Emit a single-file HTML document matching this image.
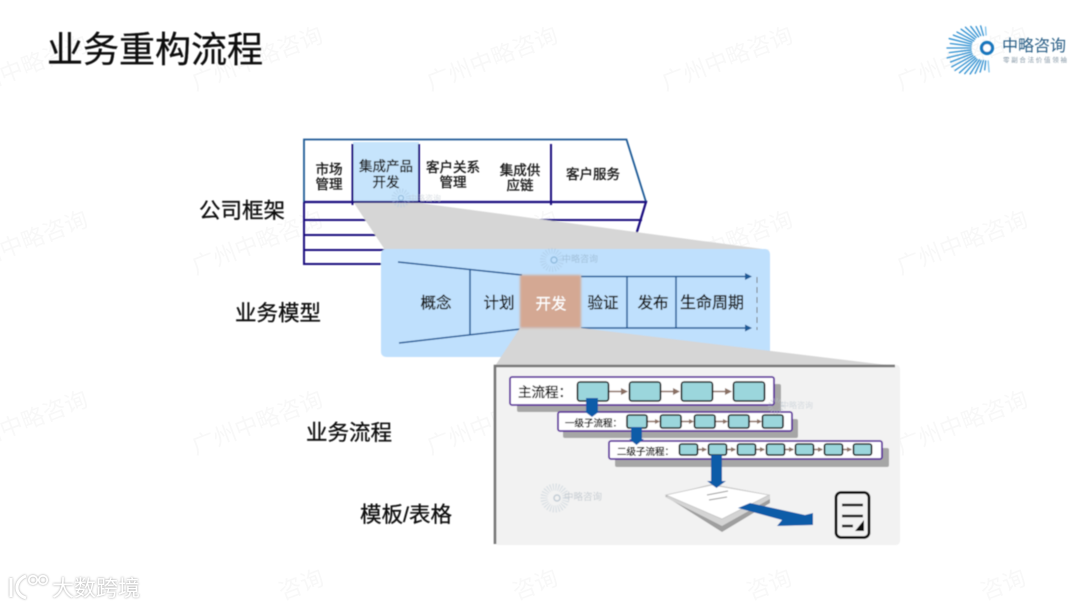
<!DOCTYPE html>
<html lang="zh"><head><meta charset="utf-8">
<style>
html,body{margin:0;padding:0;background:#fff;width:1080px;height:608px;overflow:hidden}
svg{display:block}
text{font-family:"Liberation Sans","Noto Sans CJK SC",sans-serif}
.wm text{font-size:23px;fill:#f8f8f8;text-anchor:middle}
.lab{font-size:21.5px;fill:#111;stroke:#111;stroke-width:.3}
.c{font-size:13.5px;fill:#1a1a1a;stroke:#1a1a1a;stroke-width:.35;text-anchor:middle}
.m{font-size:15.5px;fill:#1a1a1a;stroke:#1a1a1a;stroke-width:.35;text-anchor:middle}
.t{fill:#9bd6dc;stroke:#111;stroke-width:1.6}
.f{stroke:#8a6f63;stroke-width:1.4;fill:none}
.h{fill:#8a6f63}
.box{fill:#fff;stroke:#5b2a9d;stroke-width:1.8}
.sh{fill:#a6a6a6}
.arr{fill:#0f5ca8}
.minilogo{font-size:8px;fill:#b9c3cd}
.rays line{stroke-linecap:round}
</style></head><body>
<svg width="1080" height="608" viewBox="0 0 1080 608" xmlns="http://www.w3.org/2000/svg">
<defs>
<filter id="b" x="-5%" y="-5%" width="110%" height="110%"><feGaussianBlur stdDeviation="0.45"/></filter>
<filter id="b2" x="-10%" y="-10%" width="120%" height="120%"><feGaussianBlur stdDeviation="1"/></filter>
</defs>

<g class="wm">
<text transform="translate(25,75) rotate(-21)">广州中略咨询</text>
<text transform="translate(260,66) rotate(-21)">广州中略咨询</text>
<text transform="translate(495,66) rotate(-21)">广州中略咨询</text>
<text transform="translate(730,66) rotate(-21)">广州中略咨询</text>
<text transform="translate(965,66) rotate(-21)">广州中略咨询</text>
<text transform="translate(25,250) rotate(-21)">广州中略咨询</text>
<text transform="translate(260,250) rotate(-21)">广州中略咨询</text>
<text transform="translate(495,250) rotate(-21)">广州中略咨询</text>
<text transform="translate(730,250) rotate(-21)">广州中略咨询</text>
<text transform="translate(965,250) rotate(-21)">广州中略咨询</text>
<text transform="translate(25,430) rotate(-21)">广州中略咨询</text>
<text transform="translate(260,430) rotate(-21)">广州中略咨询</text>
<text transform="translate(495,430) rotate(-21)">广州中略咨询</text>
<text transform="translate(730,430) rotate(-21)">广州中略咨询</text>
<text transform="translate(965,430) rotate(-21)">广州中略咨询</text>
<text transform="translate(304,592) rotate(-21)">咨询</text>
<text transform="translate(538,592) rotate(-21)">咨询</text>
<text transform="translate(772,592) rotate(-21)">咨询</text>
<text transform="translate(1006,592) rotate(-21)">咨询</text>
</g>

<g filter="url(#b)">
<text x="47" y="62" style="font-size:36px;fill:#111;stroke:#111;stroke-width:.3">业务重构流程</text>

<!-- logo -->
<g class="rays" stroke="#2f8fd0" stroke-width="1.3">
<line x1="974" y1="48" x2="963" y2="48" stroke="#7cc0ea" transform="rotate(-95 987 48)"/>
<line x1="974" y1="48" x2="965" y2="48" transform="rotate(-84 987 48)"/>
<line x1="974" y1="48" x2="962" y2="48" transform="rotate(-74 987 48)"/>
<line x1="973" y1="48" x2="959" y2="48" transform="rotate(-65 987 48)"/>
<line x1="973" y1="48" x2="956" y2="48" transform="rotate(-57 987 48)"/>
<line x1="972" y1="48" x2="953" y2="48" transform="rotate(-49 987 48)"/>
<line x1="972" y1="48" x2="950" y2="48" transform="rotate(-42 987 48)"/>
<line x1="972" y1="48" x2="948" y2="48" transform="rotate(-35 987 48)"/>
<line x1="971" y1="48" x2="947" y2="48" transform="rotate(-28 987 48)"/>
<line x1="971" y1="48" x2="948" y2="48" transform="rotate(-21 987 48)"/>
<line x1="971" y1="48" x2="946" y2="48" transform="rotate(-14 987 48)"/>
<line x1="971" y1="48" x2="949" y2="48" transform="rotate(-7 987 48)"/>
<line x1="971" y1="48" x2="947" y2="48"/>
<line x1="971" y1="48" x2="950" y2="48" transform="rotate(7 987 48)"/>
<line x1="971" y1="48" x2="948" y2="48" transform="rotate(14 987 48)"/>
<line x1="971" y1="48" x2="951" y2="48" transform="rotate(21 987 48)"/>
<line x1="972" y1="48" x2="953" y2="48" transform="rotate(28 987 48)"/>
<line x1="972" y1="48" x2="955" y2="48" transform="rotate(36 987 48)"/>
<line x1="972" y1="48" x2="957" y2="48" transform="rotate(44 987 48)"/>
<line x1="973" y1="48" x2="960" y2="48" transform="rotate(53 987 48)"/>
<line x1="973" y1="48" x2="963" y2="48" transform="rotate(63 987 48)"/>
<line x1="974" y1="48" x2="964" y2="48" transform="rotate(74 987 48)"/>
<line x1="974" y1="48" x2="966" y2="48" stroke="#7cc0ea" transform="rotate(86 987 48)"/>
</g>
<circle cx="987" cy="48" r="5.5" fill="#fff" stroke="#1677bd" stroke-width="3.2"/>
<text x="1002" y="51" style="font-size:16px;fill:#2a5f86">中略咨询</text>
<text x="1003" y="62" style="font-size:6.5px;fill:#8597a5;letter-spacing:1.7px">零副合法价值领袖</text>

<!-- top chevron -->
<rect x="353" y="142" width="66" height="61" fill="#c6e4fc"/>
<polygon points="304,202 304,139.5 626.5,139.5 646,202" fill="none" stroke="#1f5a96" stroke-width="1.8"/>
<path d="M304,202H646L636,235" fill="none" stroke="#1a0f80" stroke-width="2.2"/>
<path d="M304,202V264H400M304,220H642M304,235H638M304,250H400" fill="none" stroke="#1a0f80" stroke-width="2"/>
<path d="M352.5,144V205M419,144V203M551,144V205" fill="none" stroke="#1a0f80" stroke-width="2"/>
<g class="c">
<text x="329" y="174">市场</text><text x="329" y="189">管理</text>
<text x="386" y="171">集成产品</text><text x="386" y="187">开发</text>
<text x="453" y="172">客户关系</text><text x="453" y="187">管理</text>
<text x="520" y="175">集成供</text><text x="520" y="190">应链</text>
<text x="593" y="179">客户服务</text>
</g>

<!-- grey projection 1 -->
<polygon points="354,203 419,203 770,250 385,250" fill="#d6d6d6"/>

<!-- blue panel -->
<rect x="381" y="249" width="389" height="108" rx="5" fill="#bfe0fd"/>
<g fill="none" stroke="#1f5a96" stroke-width="1.5">
<path d="M398,262L522,275M399,343L521,329M581,276.5H748M581,328H748M470,269V335M627,276.5V328M676,276.5V328"/>
</g>
<polygon points="745,273 752,276.5 745,280" fill="#1f5a96"/>
<polygon points="745,324.5 752,328 745,331.5" fill="#1f5a96"/>
<path d="M757,277V330" stroke="#777" stroke-width="1" stroke-dasharray="6 4" fill="none"/>

<!-- grey projection 2 -->
<polygon points="520,328 581,328 895,366 495,366" fill="#d6d6d6"/>
<rect x="520" y="275" width="61" height="53" fill="#d4a893" filter="url(#b2)"/>
<g class="m">
<text x="436" y="308">概念</text>
<text x="499" y="308">计划</text>
<text x="551" y="309" style="fill:#fff;stroke:#fff;stroke-width:.15">开发</text>
<text x="603" y="308">验证</text>
<text x="653" y="308">发布</text>
<text x="712" y="308" style="font-size:16px">生命周期</text>
</g>

<!-- lower panel -->
<rect x="494" y="365" width="406" height="180" rx="4" fill="#f2f2f2"/>
<path d="M495,544V366H895" fill="none" stroke="#767676" stroke-width="2.6"/>

<!-- process rows -->
<rect class="sh" x="517" y="384" width="264" height="28" rx="2"/>
<rect class="box" x="510" y="377" width="264" height="28" rx="2"/>
<text x="518" y="397" style="font-size:13.5px;fill:#111;stroke:#111;stroke-width:.35">主流程：</text>
<path class="f" d="M608,391.5H625M660,391.5H677M712,391.5H729"/>
<path class="h" d="M621,388L628,391.5L621,395ZM673,388L680,391.5L673,395ZM725,388L732,391.5L725,395Z"/>
<rect class="t" x="577.5" y="382" width="31" height="19" rx="2.5"/>
<rect class="t" x="629.5" y="382" width="31" height="19" rx="2.5"/>
<rect class="t" x="681.5" y="382" width="31" height="19" rx="2.5"/>
<rect class="t" x="733.5" y="382" width="31" height="19" rx="2.5"/>

<rect class="sh" x="563" y="419" width="235" height="19" rx="2"/>
<rect class="box" x="558" y="412" width="234" height="19" rx="2"/>
<polygon class="arr" points="586,398 598,398 598,411 600,411 592,417 584,411 586,411"/>
<text x="565" y="426.5" style="font-size:9.5px;fill:#111;stroke:#111;stroke-width:.3">一级子流程：</text>
<path class="f" d="M647,421.5H658M681,421.5H692M715,421.5H726M749,421.5H760"/>
<path class="h" d="M655,419L660,421.5L655,424ZM689,419L694,421.5L689,424ZM723,419L728,421.5L723,424ZM757,419L762,421.5L757,424Z"/>
<rect class="t" x="627" y="415" width="20" height="13" rx="2"/>
<rect class="t" x="660.5" y="415" width="20.5" height="13" rx="2"/>
<rect class="t" x="694.5" y="415" width="20.5" height="13" rx="2"/>
<rect class="t" x="728.5" y="415" width="20.5" height="13" rx="2"/>
<rect class="t" x="762.5" y="415" width="20.5" height="13" rx="2"/>

<rect class="sh" x="615" y="448" width="274" height="19" rx="2"/>
<rect class="box" x="609" y="441" width="273" height="18" rx="2"/>
<polygon class="arr" points="631,427 642,427 642,439 644,439 636.5,445 629,439 631,439"/>
<text x="617" y="455" style="font-size:9.5px;fill:#111;stroke:#111;stroke-width:.3">二级子流程：</text>
<path class="f" d="M697,449.5H706M726,449.5H735M755,449.5H764M784,449.5H793M813,449.5H822M842,449.5H851"/>
<path class="h" d="M702,447L707,449.5L702,452ZM731,447L736,449.5L731,452ZM760,447L765,449.5L760,452ZM789,447L794,449.5L789,452ZM818,447L823,449.5L818,452ZM847,447L852,449.5L847,452Z"/>
<rect class="t" x="679.5" y="444" width="18" height="11" rx="2"/>
<rect class="t" x="708.5" y="444" width="18" height="11" rx="2"/>
<rect class="t" x="737.5" y="444" width="18" height="11" rx="2"/>
<rect class="t" x="766.5" y="444" width="18" height="11" rx="2"/>
<rect class="t" x="795.5" y="444" width="18" height="11" rx="2"/>
<rect class="t" x="824.5" y="444" width="18" height="11" rx="2"/>
<rect class="t" x="853.5" y="444" width="18" height="11" rx="2"/>

<!-- document stack -->
<polygon points="665,496 722,532 770,503 770,495 712,484" fill="#9f9f9f"/>
<polygon points="665,497 722,526 770,499 770,495 712,484" fill="#d4d4d4"/>
<polygon points="666,495 722,519 769,495 712,485" fill="#fff" stroke="#c4c4c4" stroke-width=".8"/>
<path d="M707,495L728,491M709,500L727,497" stroke="#999" stroke-width="1" fill="none"/>
<polygon class="arr" points="711,455 722,455 722,481 726,481 716.5,488 707,481 711,481"/>
<polygon class="arr" points="738,508 750,503 805,515 813,513 813,525 777,526 782,520"/>

<!-- form icon -->
<rect x="836" y="492.5" width="33" height="45" rx="5" fill="none" stroke="#111" stroke-width="2.8"/>
<path d="M842,505H863M842,516H863M842,526H853" stroke="#111" stroke-width="2.6" fill="none"/>
<polygon points="864,520 864,531 855,531" fill="#111"/>

<!-- small logos -->
<g opacity=".55">
<circle cx="401" cy="198" r="7" fill="none" stroke="#a9c6df" stroke-width="5" stroke-dasharray="1 1.6"/>
<circle cx="401" cy="198" r="2.5" fill="none" stroke="#6f9fc5" stroke-width="1.2"/>
<text x="409" y="201" class="minilogo">中略咨询</text>
<circle cx="552" cy="260" r="9" fill="none" stroke="#a9c6df" stroke-width="6" stroke-dasharray="1 1.6"/>
<circle cx="554" cy="260" r="3" fill="none" stroke="#6f9fc5" stroke-width="1.4"/>
<text x="562" y="262" style="font-size:9px;fill:#8aa6bd">中略咨询</text>
<circle cx="776" cy="406" r="6" fill="none" stroke="#b9c3cd" stroke-width="4" stroke-dasharray="1 1.6"/>
<text x="781" y="408" class="minilogo">中略咨询</text>
<circle cx="555" cy="498" r="11" fill="none" stroke="#c0ccd6" stroke-width="7" stroke-dasharray="1 1.6"/>
<circle cx="557" cy="498" r="3" fill="none" stroke="#9fb1c0" stroke-width="1.5"/>
<text x="564" y="500" style="font-size:9.5px;fill:#a5b0ba">中略咨询</text>
</g>

<!-- side labels -->
<text x="199" y="218" class="lab">公司框架</text>
<text x="235" y="320.5" class="lab">业务模型</text>
<text x="306" y="440" class="lab">业务流程</text>
<text x="360" y="522" class="lab">模板/表格</text>
</g>

<!-- bottom-left brand -->
<g style="filter:drop-shadow(0 0 1px #999)">
<path d="M11,578V597M26,576C15,580 13,594 26,598" fill="none" stroke="#fff" stroke-width="3"/>
<circle cx="33" cy="580" r="4.2" fill="none" stroke="#fff" stroke-width="1.8"/>
<circle cx="43" cy="580" r="4.2" fill="none" stroke="#fff" stroke-width="1.8"/>
<text x="52" y="596" style="font-size:22px;fill:#fff">大数跨境</text>
</g>
</svg>
</body></html>
